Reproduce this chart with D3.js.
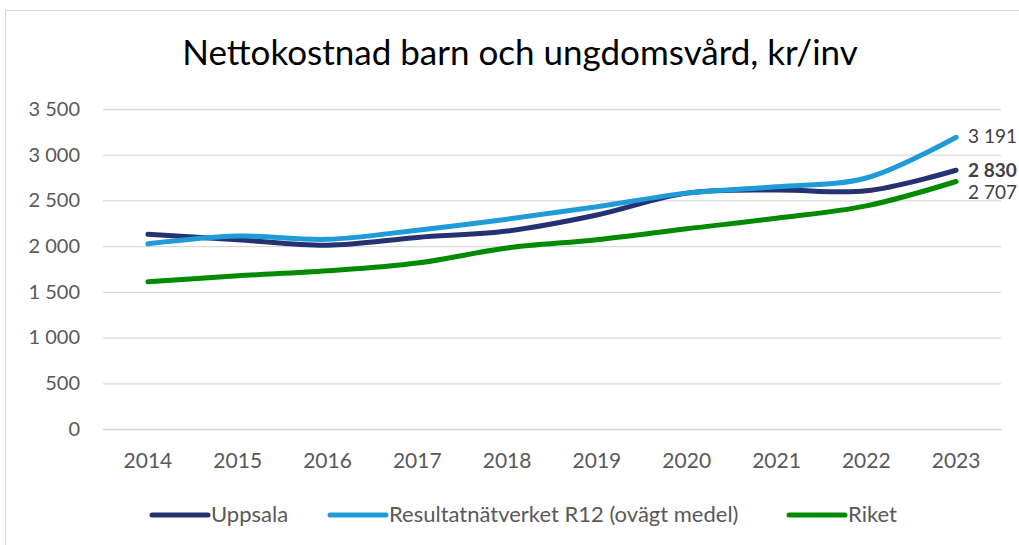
<!DOCTYPE html>
<html><head><meta charset="utf-8">
<script src="https://cdn.jsdelivr.net/npm/d3@7"></script>
<style>
body{margin:0;background:#fff;font-family:Lato,"Open Sans",sans-serif;}
</style></head>
<body><div id="chart"></div>
<script>
const years=["2014","2015","2016","2017","2018","2019","2020","2021","2022","2023"];
const uppsala=[2130,2070,2010,2095,2165,2340,2580,2615,2605,2830];
const r12=[2025,2110,2075,2175,2295,2430,2580,2650,2745,3191];
const riket=[1610,1675,1730,1815,1980,2070,2190,2305,2440,2707];
const yTicks=[0,500,1000,1500,2000,2500,3000,3500];
const seriesNames=["Uppsala","Resultatnätverket R12 (ovägt medel)","Riket"];

const W=1019,H=545,grey="#595959",ff="Lato,'Open Sans',sans-serif";
const series=[
  {name:seriesNames[0],values:uppsala,color:"#253170",bold:true},
  {name:seriesNames[1],values:r12,color:"#1f9bd7"},
  {name:seriesNames[2],values:riket,color:"#008a00"}
];
const svg=d3.select("#chart").append("svg").attr("width",W).attr("height",H);

// chart frame
svg.append("rect").attr("x",5.5).attr("y",10.5).attr("width",W+20).attr("height",H)
  .attr("fill","none").attr("stroke","#d9d9d9");

svg.append("text").attr("x",520).attr("y",65).attr("text-anchor","middle")
  .attr("font-size",35).attr("fill","#000").text("Nettokostnad barn och ungdomsvård, kr/inv");

const m={left:103,right:1001,top:109,bottom:429};
const x=d3.scaleBand().domain(years).range([m.left,m.right]);
const y=d3.scaleLinear().domain([0,3500]).range([m.bottom,m.top]);
const fmt=v=>d3.format(",")(v).replace(/,/g," ");

svg.append("g").attr("transform",`translate(${m.left},0)`)
  .call(d3.axisLeft(y).tickValues(yTicks).tickFormat(fmt).tickSize(-(m.right-m.left)).tickPadding(23))
  .call(s=>s.select(".domain").remove())
  .call(s=>s.selectAll("line").attr("stroke","#d9d9d9").attr("stroke-width",1.3))
  .call(s=>s.selectAll("text").attr("font-size",20).attr("fill",grey).attr("font-family",ff));

svg.append("g").attr("transform",`translate(0,${m.bottom})`)
  .call(d3.axisBottom(x).tickSize(0).tickPadding(24))
  .call(s=>s.select(".domain").attr("stroke","#d9d9d9").attr("stroke-width",1.3))
  .call(s=>s.selectAll("text").attr("font-size",21).attr("fill",grey).attr("font-family",ff));

const line=d3.line().x((d,i)=>x(years[i])+x.bandwidth()/2).y(d=>y(d)).curve(d3.curveCatmullRom.alpha(.5));

[series[2],series[0],series[1]].forEach(s=>{
  svg.append("path").datum(s.values).attr("d",line)
    .attr("fill","none").attr("stroke",s.color).attr("stroke-width",5)
    .attr("stroke-linecap","round").attr("stroke-linejoin","round");
});

// end labels
const lastX=x(years[years.length-1])+x.bandwidth()/2+12;
const offs=[7,6,17];
series.forEach((s,i)=>{
  const v=s.values[s.values.length-1];
  svg.append("text").attr("x",lastX).attr("y",y(v)+offs[i])
    .attr("font-size",19).attr("fill","#404040")
    .attr("font-weight",s.bold?"bold":"normal").text(fmt(v));
});

// legend
const legX=[152,330,789];
series.forEach((s,i)=>{
  const g=svg.append("g").attr("transform",`translate(${legX[i]},515)`);
  g.append("line").attr("x1",0).attr("x2",56).attr("stroke",s.color)
    .attr("stroke-width",5).attr("stroke-linecap","round");
  g.append("text").attr("x",59).attr("y",7).attr("font-size",22).attr("fill",grey).text(s.name);
});
</script></body></html>
